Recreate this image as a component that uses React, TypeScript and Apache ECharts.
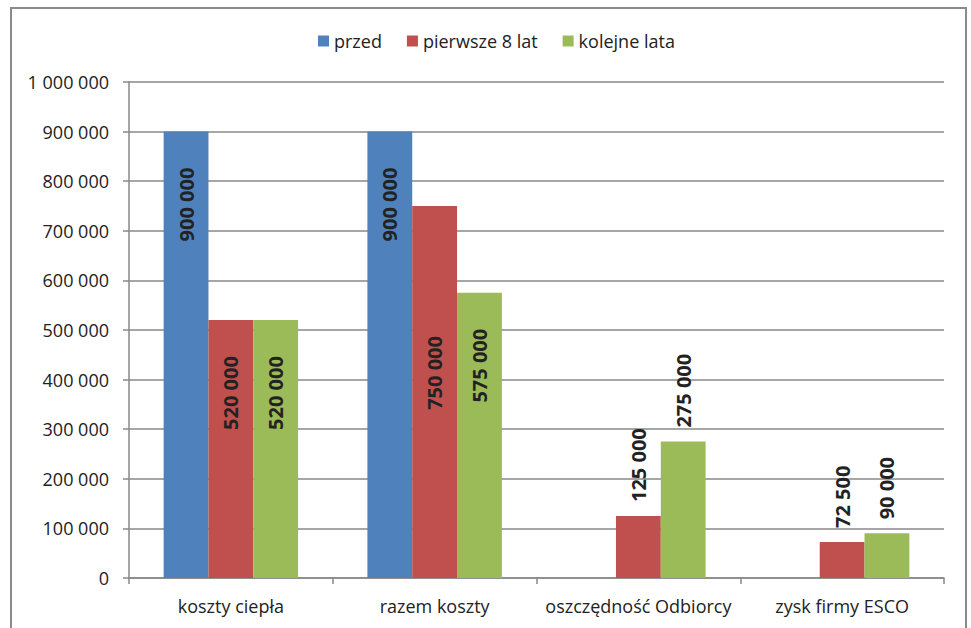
import React, { useEffect, useRef } from "react";
import * as echarts from "echarts";

const categories = ["koszty ciepła", "razem koszty", "oszczędność Odbiorcy", "zysk firmy ESCO"];
const seriesNames = ["przed", "pierwsze 8 lat", "kolejne lata"];
const przed = [900000, 900000, null, null];
const pierwsze8 = [520000, 750000, 125000, 72500];
const kolejne = [520000, 575000, 275000, 90000];
const colors = ["#4F81BD", "#C0504D", "#9BBB59"];

const FONT = "Open Sans";
const fmt = (v: number) => String(v).replace(/\B(?=(\d{3})+(?!\d))/g, " ");

export default function App() {
  const ref = useRef<HTMLDivElement>(null);
  useEffect(() => {
    document.body.style.margin = "0";
    if (!ref.current) return;
    const chart = echarts.init(ref.current, null, { renderer: "svg" });
    const all = [przed, pierwsze8, kolejne];
    const series = all.map((arr, si) => ({
      name: seriesNames[si],
      type: "bar",
      barGap: "0%",
      barCategoryGap: "34%",
      itemStyle: { color: colors[si] },
      data: arr.map((v, ci) => {
        if (v === null) return null;
        const inside = v >= 300000;
        const extra = si === 1 && ci === 1 ? 130 : 36;
        return {
          value: v,
          label: inside
            ? { show: true, position: "insideTop", distance: extra, rotate: 90, align: "right", verticalAlign: "middle" }
            : { show: true, position: "top", distance: 14, rotate: 90, align: "left", verticalAlign: "middle" },
        };
      }),
      label: {
        show: true,
        formatter: (p: any) => fmt(p.value),
        fontFamily: FONT,
        fontWeight: "bold",
        fontSize: 20,
        color: "#222",
      },
    }));
    chart.setOption({
      animation: false,
      backgroundColor: "#fff",
      textStyle: { fontFamily: FONT },
      graphic: [
        {
          type: "rect",
          shape: { x: 11, y: 8, width: 955, height: 660 },
          style: { fill: "none", stroke: "#8a8a8a", lineWidth: 2 },
          silent: true,
          z: -1,
        },
      ],
      legend: {
        data: seriesNames,
        left: 313,
        top: 27,
        icon: "rect",
        itemWidth: 11,
        itemHeight: 11,
        itemGap: 25,
        textStyle: { fontFamily: FONT, fontSize: 18, color: "#222" },
      },
      grid: { left: 129, right: 27, top: 82, bottom: 50, containLabel: false },
      xAxis: {
        type: "category",
        data: categories,
        axisLine: { show: true, lineStyle: { color: "#888", width: 1.5 } },
        axisTick: { show: true, length: 6, lineStyle: { color: "#888", width: 1.5 } },
        axisLabel: { fontFamily: FONT, fontSize: 18, color: "#222", margin: 19, interval: 0 },
      },
      yAxis: {
        type: "value",
        min: 0,
        max: 1000000,
        interval: 100000,
        axisLine: { show: true, lineStyle: { color: "#888", width: 1.5 } },
        axisTick: { show: true, length: 6, lineStyle: { color: "#888", width: 1.5 } },
        axisLabel: { fontFamily: FONT, fontSize: 18, color: "#222", margin: 20, formatter: (v: number) => fmt(v) },
        splitLine: { show: true, lineStyle: { color: "#888", width: 1.5 } },
      },
      series,
    });
    return () => chart.dispose();
  }, []);
  return <div ref={ref} style={{ width: 971, height: 628 }} />;
}
